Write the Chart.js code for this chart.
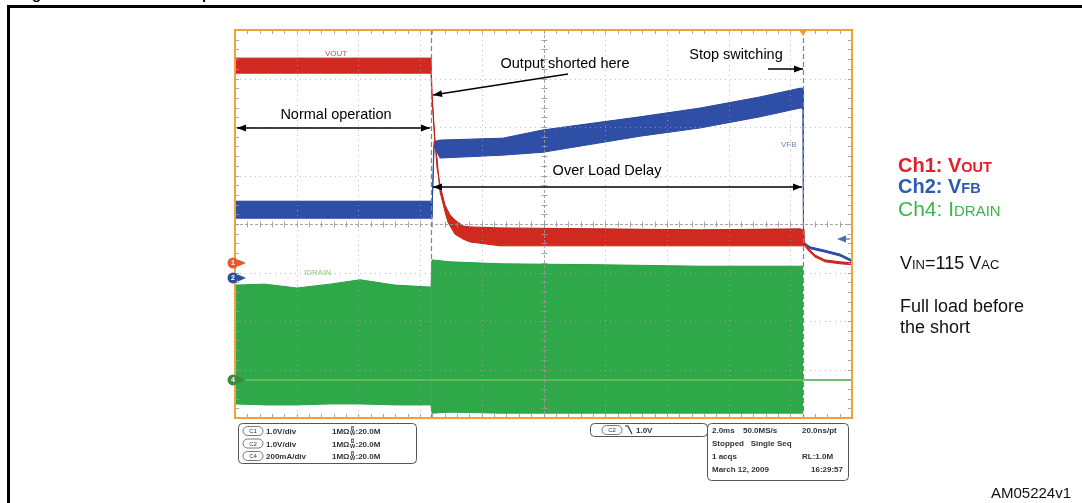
<!DOCTYPE html>
<html>
<head>
<meta charset="utf-8">
<script src="https://cdn.jsdelivr.net/npm/chart.js@4.4.0/dist/chart.umd.min.js"></script>
<style>
  html, body { margin: 0; padding: 0; background: #fff; overflow: hidden; }
  canvas { display: block; }
</style>
</head>
<body>
<canvas id="scope" width="1082" height="503"></canvas>
<script>
// Screen is 10 x 8 divisions (2 ms/div). y values are in screen divisions from the bottom.
const voutX    = [0, 3.177, 3.193, 3.241, 3.274, 3.323, 3.355, 3.404, 3.452, 3.485, 3.566, 3.695, 3.809, 4.295, 5.916, 7.536, 9.157, 9.206, 9.222, 9.30, 9.40, 9.562, 9.805, 10];
const voutHigh = [7.42, 7.42, 6.68, 5.73, 5.16, 4.80, 4.64, 4.39, 4.27, 4.19, 4.08, 3.96, 3.94, 3.92, 3.90, 3.88, 3.90, 3.88, 3.61, 3.49, 3.36, 3.26, 3.22, 3.20];
const voutLow  = [7.11, 7.11, 6.62, 5.63, 5.36, 4.66, 4.50, 4.25, 4.04, 3.96, 3.79, 3.69, 3.63, 3.55, 3.55, 3.55, 3.55, 3.55, 3.57, 3.44, 3.32, 3.22, 3.18, 3.16];

const vfbX    = [0, 3.177, 3.19, 3.226, 3.323, 4.343, 4.992, 6.564, 7.536, 8.509, 9.157, 9.206, 9.214, 9.319, 9.562, 9.805, 10];
const vfbHigh = [4.47, 4.47, 4.14, 5.70, 5.73, 5.77, 5.94, 6.21, 6.39, 6.62, 6.80, 6.80, 3.63, 3.53, 3.46, 3.38, 3.26];
const vfbLow  = [4.12, 4.12, 4.10, 5.60, 5.36, 5.42, 5.48, 5.81, 5.98, 6.21, 6.39, 6.39, 3.59, 3.49, 3.42, 3.34, 3.22];

const idrainX    = [0, 0.486, 1.005, 1.540, 2.026, 2.593, 3.160, 3.177, 3.193, 3.485, 4.295, 5.916, 7.536, 9.157, 9.206];
const idrainHigh = [2.74, 2.76, 2.68, 2.76, 2.85, 2.74, 2.70, 2.70, 3.26, 3.22, 3.18, 3.16, 3.13, 3.13, 3.13];
const idrainLow  = [0.29, 0.27, 0.27, 0.29, 0.29, 0.27, 0.27, 0.27, 0.10, 0.12, 0.10, 0.10, 0.10, 0.10, 0.10];

const idrainZero = 0.784;
const idrainOffX = [9.206, 10];
const idrainOffY = [0.784, 0.784];

const cursorX = [3.177, 9.206];
const channelLevels = [3.196, 2.887, 0.784];
const channelNames = ['1', '2', '4'];
const channelColors = ['#e8582c', '#2d4e9e', '#3f8a3c'];

const FONT = "Arial, 'Liberation Sans', sans-serif";

const pts = (xs, ys) => xs.map((x, i) => ({ x, y: ys[i] }));

function band(xs, hi, lo, fillColor, edge, order) {
  return [
    { data: pts(xs, hi), borderColor: edge, backgroundColor: fillColor, fill: '+1', order, borderWidth: 1 },
    { data: pts(xs, lo), borderColor: edge, backgroundColor: fillColor, fill: false, order, borderWidth: 1 }
  ];
}

function line(ctx, x1, y1, x2, y2) {
  ctx.beginPath();
  ctx.moveTo(x1, y1);
  ctx.lineTo(x2, y2);
  ctx.stroke();
}

function head(ctx, fx, fy, tx, ty) {
  const ang = Math.atan2(ty - fy, tx - fx);
  const len = 9, half = 3.5;
  ctx.beginPath();
  ctx.moveTo(tx, ty);
  ctx.lineTo(tx - len * Math.cos(ang) + half * Math.sin(ang), ty - len * Math.sin(ang) - half * Math.cos(ang));
  ctx.lineTo(tx - len * Math.cos(ang) - half * Math.sin(ang), ty - len * Math.sin(ang) + half * Math.cos(ang));
  ctx.closePath();
  ctx.fill();
}

function arrow(ctx, x1, y1, x2, y2, both) {
  ctx.strokeStyle = '#000';
  ctx.fillStyle = '#000';
  ctx.lineWidth = 1.5;
  line(ctx, x1, y1, x2, y2);
  head(ctx, x1, y1, x2, y2);
  if (both) head(ctx, x2, y2, x1, y1);
}

function rich(ctx, x, y, parts) {
  for (const [t, size, color, weight] of parts) {
    ctx.font = (weight || '') + ' ' + size + 'px ' + FONT;
    ctx.fillStyle = color;
    ctx.fillText(t, x, y);
    x += ctx.measureText(t).width;
  }
}

function pill(ctx, x, cy, label) {
  ctx.strokeStyle = '#555';
  ctx.lineWidth = 0.8;
  ctx.beginPath();
  ctx.roundRect(x, cy - 4.5, 20, 9, 4.5);
  ctx.stroke();
  ctx.font = '6px ' + FONT;
  ctx.fillStyle = '#333';
  ctx.textAlign = 'center';
  ctx.fillText(label, x + 10, cy + 2);
  ctx.textAlign = 'left';
}

function bw(ctx, x, cy) {
  ctx.fillStyle = '#333';
  ctx.font = 'bold 4.5px ' + FONT;
  ctx.fillText('B', x + 1, cy - 0.5);
  ctx.font = 'bold 5.5px ' + FONT;
  ctx.fillText('W', x, cy + 4);
  ctx.strokeStyle = '#333';
  ctx.lineWidth = 0.6;
  line(ctx, x + 1, cy - 4.5, x + 4, cy - 4.5);
  ctx.font = 'bold 8px ' + FONT;
  ctx.fillText(':20.0M', x + 5.5, cy + 3);
}

const scopePlugin = {
  id: 'scope',
  afterDatasetsDraw(chart) {
    const { ctx, chartArea: a, scales: { x, y } } = chart;
    ctx.save();
    // dotted division grid
    ctx.strokeStyle = 'rgba(165,165,165,0.75)';
    ctx.lineWidth = 1;
    ctx.setLineDash([1, 4]);
    for (let i = 1; i < 10; i++) {
      if (i === 5) continue;
      const px = Math.round(x.getPixelForValue(i)) + 0.5;
      line(ctx, px, a.top, px, a.bottom);
    }
    for (let j = 1; j < 8; j++) {
      if (j === 4) continue;
      const py = Math.round(y.getPixelForValue(j)) + 0.5;
      line(ctx, a.left, py, a.right, py);
    }
    // center crosshair
    const cx = Math.round(x.getPixelForValue(5)) + 0.5;
    const cy = Math.round(y.getPixelForValue(4)) + 0.5;
    ctx.setLineDash([3, 2]);
    ctx.strokeStyle = 'rgba(150,150,150,0.85)';
    line(ctx, cx, a.top, cx, a.bottom);
    line(ctx, a.left, cy, a.right, cy);
    ctx.setLineDash([]);
    // minor ticks
    for (let k = 1; k < 50; k++) {
      const px = Math.round(x.getPixelForValue(k / 5)) + 0.5;
      line(ctx, px, a.top, px, a.top + 4);
      line(ctx, px, a.bottom - 4, px, a.bottom);
      line(ctx, px, cy - 3, px, cy + 3);
    }
    for (let k = 1; k < 40; k++) {
      const py = Math.round(y.getPixelForValue(k / 5)) + 0.5;
      line(ctx, a.left, py, a.left + 4, py);
      line(ctx, a.right - 4, py, a.right, py);
      line(ctx, cx - 3, py, cx + 3, py);
    }
    // cursors
    ctx.strokeStyle = '#80809c';
    ctx.lineWidth = 1.2;
    ctx.setLineDash([5, 3]);
    for (const c of cursorX) {
      const px = Math.round(x.getPixelForValue(c)) + 0.5;
      line(ctx, px, a.top, px, a.bottom);
    }
    ctx.setLineDash([]);
    ctx.restore();
  },
  afterDraw(chart) {
    const { ctx, chartArea: a, scales: { x, y } } = chart;
    ctx.save();
    ctx.textBaseline = 'alphabetic';
    // page frame and clipped title
    ctx.strokeStyle = '#000';
    ctx.lineWidth = 3;
    ctx.strokeRect(8.5, 6.5, 1200, 600);
    ctx.font = 'bold 15px ' + FONT;
    ctx.fillStyle = '#000';
    ctx.fillText('Figure 8.', 32 - ctx.measureText('Fi').width, -1);
    ctx.fillText('Output short-circuit', 202 - ctx.measureText('Out').width, -1);

    // screen border
    ctx.strokeStyle = '#f2a23c';
    ctx.lineWidth = 2;
    ctx.strokeRect(a.left, a.top, a.right - a.left, a.bottom - a.top);

    // trigger position marker
    const tx = x.getPixelForValue(cursorX[1]);
    ctx.fillStyle = '#f29a2a';
    ctx.beginPath();
    ctx.moveTo(tx - 4, a.top);
    ctx.lineTo(tx + 4, a.top);
    ctx.lineTo(tx, a.top + 6);
    ctx.closePath();
    ctx.fill();

    // trigger level arrow (ch2)
    ctx.strokeStyle = '#4a68bc';
    ctx.fillStyle = '#4a68bc';
    ctx.lineWidth = 1.2;
    line(ctx, a.right - 2, 239, a.right - 12, 239);
    head(ctx, a.right - 6, 239, a.right - 15, 239);

    // channel ground markers
    channelLevels.forEach((lv, i) => {
      const py = y.getPixelForValue(lv);
      const px = a.left - 2;
      ctx.fillStyle = channelColors[i];
      ctx.beginPath();
      ctx.moveTo(px + 5, py - 3.5);
      ctx.lineTo(px + 13, py);
      ctx.lineTo(px + 5, py + 3.5);
      ctx.closePath();
      ctx.fill();
      ctx.beginPath();
      ctx.arc(px, py, 5.5, 0, Math.PI * 2);
      ctx.fill();
      ctx.fillStyle = '#fff';
      ctx.font = 'bold 7px ' + FONT;
      ctx.textAlign = 'center';
      ctx.fillText(channelNames[i], px, py + 2.5);
      ctx.textAlign = 'left';
    });

    // trace labels
    ctx.font = '8px ' + FONT;
    ctx.fillStyle = '#d8504a';
    ctx.fillText('VOUT', 325, 56);
    ctx.fillStyle = '#6f84c4';
    ctx.fillText('VFB', 781, 147);
    ctx.fillStyle = '#8ccc78';
    ctx.fillText('IDRAIN', 304, 275);

    // annotations
    ctx.fillStyle = '#000';
    ctx.textAlign = 'center';
    ctx.font = '14.5px ' + FONT;
    ctx.fillText('Normal operation', 336, 119);
    ctx.fillText('Output shorted here', 565, 68);
    ctx.fillText('Stop switching', 736, 59);
    ctx.fillText('Over Load Delay', 607, 175);
    ctx.textAlign = 'left';
    arrow(ctx, 237, 128, 430, 128, true);
    arrow(ctx, 568, 74, 433, 95, false);
    arrow(ctx, 768, 69, 803, 69, false);
    arrow(ctx, 433, 187, 802, 187, true);

    // right-hand legend
    rich(ctx, 898, 172, [['Ch1: V', 20, '#e3202a', 'bold'], ['OUT', 14.5, '#e3202a', 'bold']]);
    rich(ctx, 898, 193, [['Ch2: V', 20, '#2c5cb2', 'bold'], ['FB', 14.5, '#2c5cb2', 'bold']]);
    rich(ctx, 898, 216, [['Ch4: I', 21, '#3db54a'], ['DRAIN', 15, '#3db54a']]);
    rich(ctx, 900, 269, [['V', 18, '#111'], ['IN', 13, '#111'], ['=115 V', 18, '#111'], ['AC', 13, '#111']]);
    rich(ctx, 900, 312, [['Full load before', 18, '#111']]);
    rich(ctx, 900, 333, [['the short', 18, '#111']]);
    rich(ctx, 991, 498, [['AM05224v1', 15, '#111']]);

    // status boxes
    ctx.strokeStyle = '#555';
    ctx.lineWidth = 1;
    ctx.beginPath(); ctx.roundRect(238.5, 423.5, 178, 40, 4); ctx.stroke();
    ctx.beginPath(); ctx.roundRect(590.5, 423.5, 117, 13, 4); ctx.stroke();
    ctx.beginPath(); ctx.roundRect(707.5, 423.5, 141, 57, 4); ctx.stroke();

    const rowsL = [431, 443.5, 456];
    const chans = [['C1', '1.0V/div'], ['C2', '1.0V/div'], ['C4', '200mA/div']];
    rowsL.forEach((ry, i) => {
      pill(ctx, 243, ry, chans[i][0]);
      ctx.font = 'bold 8px ' + FONT;
      ctx.fillStyle = '#333';
      ctx.fillText(chans[i][1], 266, ry + 3);
      ctx.fillText('1M\u03A9', 332, ry + 3);
      bw(ctx, 350, ry);
    });

    pill(ctx, 602, 430, 'C2');
    ctx.strokeStyle = '#333';
    ctx.lineWidth = 1.2;
    ctx.beginPath();
    ctx.moveTo(625, 426); ctx.lineTo(628, 426); ctx.lineTo(632, 434);
    ctx.stroke();
    ctx.font = 'bold 8px ' + FONT;
    ctx.fillStyle = '#333';
    ctx.fillText('1.0V', 636, 433);

    ctx.fillText('2.0ms', 712, 433);
    ctx.fillText('50.0MS/s', 743, 433);
    ctx.fillText('20.0ns/pt', 802, 433);
    ctx.fillText('Stopped   Single Seq', 712, 446);
    ctx.fillText('1 acqs', 712, 459);
    ctx.fillText('RL:1.0M', 802, 459);
    ctx.fillText('March 12, 2009', 712, 472);
    ctx.textAlign = 'right';
    ctx.fillText('16:29:57', 843, 472);
    ctx.restore();
  }
};

const datasets = [
  ...band(voutX, voutHigh, voutLow, '#d02a20', '#bd1f18', 1),
  ...band(vfbX, vfbHigh, vfbLow, '#2f4ea6', '#2a459a', 2),
  ...band(idrainX, idrainHigh, idrainLow, '#2fa84a', '#2a9e44', 3),
  { data: pts([0, cursorX[1]], [idrainZero, idrainZero]), borderColor: 'rgba(190,228,120,0.45)', borderWidth: 1.5, fill: false, order: 0 },
  { data: pts(idrainOffX, idrainOffY), borderColor: '#3aa84a', borderWidth: 1.5, fill: false, order: 0 }
];

new Chart(document.getElementById('scope'), {
  type: 'line',
  data: { datasets },
  options: {
    responsive: false,
    animation: false,
    devicePixelRatio: 1,
    layout: { padding: { left: 235, top: 30, right: 230, bottom: 85 } },
    elements: { point: { radius: 0 }, line: { tension: 0 } },
    scales: {
      x: { type: 'linear', min: 0, max: 10, display: false },
      y: { type: 'linear', min: 0, max: 8, display: false }
    },
    plugins: { legend: { display: false }, tooltip: { enabled: false } }
  },
  plugins: [scopePlugin]
});
</script>
</body>
</html>
